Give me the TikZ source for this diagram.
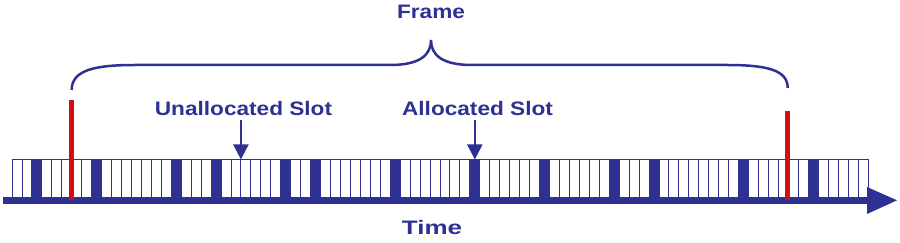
\documentclass[tikz,border=0pt]{standalone}
\usepackage{fontspec}
\newfontfamily\lblfont{Liberation Sans}[FakeStretch=1.16]
\usetikzlibrary{arrows.meta}
\definecolor{tblue}{RGB}{46,49,146}
\definecolor{tred}{RGB}{208,16,16}
\tikzset{
  slot/.style={draw=tblue, line width=0.9pt, fill=white, inner sep=0pt, outer sep=0pt,
    minimum width=9.953pt, minimum height=37.5pt, anchor=north west},
  lbl/.style={font=\lblfont\bfseries\fontsize{19.5}{22}\selectfont, text=tblue, inner sep=0pt, anchor=base},
  ptr/.style={draw=tblue, line width=2pt, -{Triangle[length=15pt,width=15pt]}},
  markline/.style={draw=tred, line width=4.5pt},
  braceline/.style={draw=tblue, line width=2.5pt},
}
\begin{document}
\begin{tikzpicture}[x=1pt,y=-1pt]
\useasboundingbox[fill=white] (0,0) rectangle (900,243);
% slots
\foreach \i in {1,...,86}
  \node[slot] (s\i) at ({12+(\i-1)*9.953},159.5) {};
\foreach \i in {3,9,17,21,28,31,39,47,54,61,65,74,81}
  \fill[tblue] (s\i.south west) rectangle (s\i.north east);
% time axis
\fill[tblue] (3,197) rectangle (869,203.5);
\fill[tblue] (867,187) -- (897,200.3) -- (867,214) -- cycle;
% frame markers
\coordinate (fl) at (71.7,100);
\coordinate (flb) at (71.7,200);
\coordinate (fr) at (787.7,110.7);
\coordinate (frb) at (787.7,200);
\draw[markline] (fl) -- (flb);
\draw[markline] (fr) -- (frb);
% brace
\draw[braceline] (71.7,90) .. controls (71.7,70) and (95,65) .. (135,65) -- (390,65)
  .. controls (420,65) and (431,55) .. (431,40)
  .. controls (431,55) and (442,65) .. (472,65) -- (727,65)
  .. controls (767,65) and (787.7,70) .. (787.7,88);
% labels
\node[lbl] (frame) at (431,18.5) {Frame};
\node[lbl] (ua) at (243.5,116) {Unallocated Slot};
\node[lbl] (al) at (477.5,116) {Allocated Slot};
\node[lbl] (time) at (432,234.3) {\scalebox{1.15}[1]{Time}};
% pointers
\coordinate (uat) at (s23.north east);
\coordinate (alt) at (s47.north);
\path (ua.south -| uat) coordinate (uas);
\path (al.south -| alt) coordinate (als);
\draw[ptr] ([yshift=-4pt]uas) -- (uat);
\draw[ptr] ([yshift=-4pt]als) -- (alt);
\end{tikzpicture}
\end{document}
